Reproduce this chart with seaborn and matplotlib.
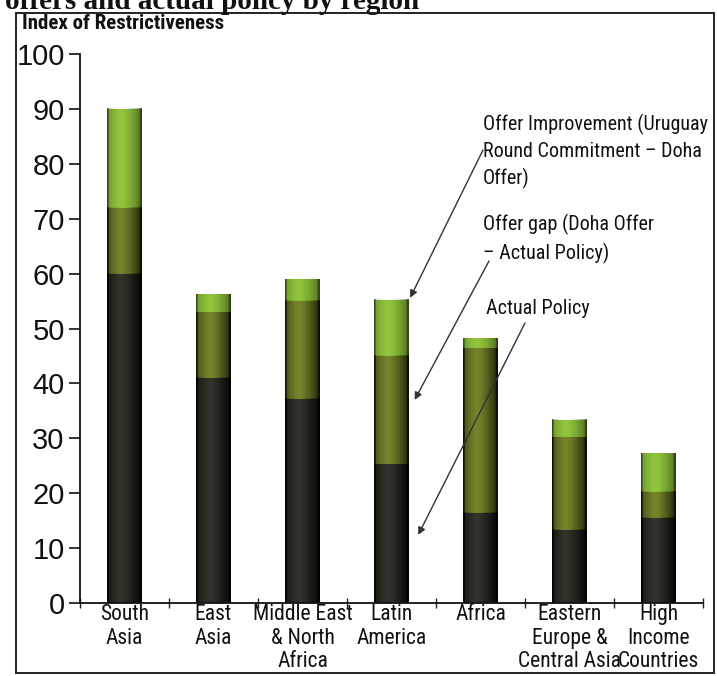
import numpy as np
import pandas as pd
import matplotlib
matplotlib.use("Agg")
import matplotlib.pyplot as plt
import seaborn as sns
from matplotlib.patches import Rectangle

# ---- data ----
regions = ["South\nAsia", "East\nAsia", "Middle East\n& North\nAfrica", "Latin\nAmerica",
           "Africa", "Eastern\nEurope &\nCentral Asia", "High\nIncome\nCountries"]
actual_policy = [60.0, 41.0, 37.2, 25.3, 16.4, 13.3, 15.5]
doha_offer = [72.0, 53.0, 55.1, 45.0, 46.4, 30.2, 20.3]
uruguay_commitment = [90.0, 56.2, 59.0, 55.2, 48.2, 33.4, 27.3]
yticks = [0, 10, 20, 30, 40, 50, 60, 70, 80, 90, 100]

df = pd.DataFrame({"region": regions, "actual": actual_policy,
                   "doha": doha_offer, "ur": uruguay_commitment})

sns.set_theme(style="white")
NARROW = ["Roboto Condensed", "PT Sans Narrow", "Archivo Narrow", "DejaVu Sans"]
REG = ["Liberation Sans", "DejaVu Sans"]
plt.rcParams["font.family"] = REG

W, H = 717, 676
fig = plt.figure(figsize=(W / 100, H / 100), dpi=100)
fig.patch.set_facecolor("white")

def fx(px):
    return px / W

def fy(py):
    return 1 - py / H

ax = fig.add_axes([fx(80), fy(603), fx(703) - fx(80), fy(54) - fy(603)])
ax.set_facecolor("white")

c_green = "#90c43c"
c_olive = "#77832a"
c_dark = "#32342b"
bw = 0.39
sns.barplot(data=df, x="region", y="ur", color=c_green, width=bw, ax=ax,
            saturation=1, linewidth=0)
sns.barplot(data=df, x="region", y="doha", color=c_olive, width=bw, ax=ax,
            saturation=1, linewidth=0)
sns.barplot(data=df, x="region", y="actual", color=c_dark, width=bw, ax=ax,
            saturation=1, linewidth=0)

# cylinder-like shading overlay
prof = np.linspace(0, 1, 64)
alpha = 0.45 * np.clip(np.abs(prof - 0.4) / 0.6, 0, 1) ** 1.6
alpha[:3] = 0.6
alpha[-4:] = 0.65
shade = np.zeros((1, 64, 4))
shade[0, :, 3] = alpha
for p in list(ax.patches):
    x0, y0 = p.get_x(), p.get_y()
    w, h = p.get_width(), p.get_height()
    if h <= 0:
        continue
    ax.imshow(shade, extent=[x0, x0 + w, y0, y0 + h], aspect="auto",
              zorder=p.get_zorder() + 0.05, interpolation="bilinear")

ax.set_xlim(-0.5, 6.5)
ax.set_ylim(0, 100)
ax.set_xlabel("")
ax.set_ylabel("")
ax.set_yticks(yticks)
ax.set_yticklabels([str(t) for t in yticks], fontsize=21, family=REG, color="#111111")
ax.tick_params(axis="y", direction="out", length=8, width=1.2, pad=3, left=True, colors="#111111")
ax.set_xticks(range(len(regions)))
ax.set_xticklabels(regions, fontsize=15.5, family=NARROW, color="#111111", linespacing=1.14)
ax.tick_params(axis="x", which="major", length=0, pad=1)
ax.set_xticks(np.arange(-0.5, 7, 1), minor=True)
ax.tick_params(axis="x", which="minor", direction="inout", length=7, width=1, bottom=True, colors="#222222")
for s in ["top", "right"]:
    ax.spines[s].set_visible(False)
for s in ["left", "bottom"]:
    ax.spines[s].set_color("#111111")
    ax.spines[s].set_linewidth(1.3)

# annotations
txt_kw = dict(fontsize=14.5, family=NARROW, color="#111111", ha="left", va="top", linespacing=1.45)
fig.text(fx(483), fy(114), "Offer Improvement (Uruguay\nRound Commitment \u2013 Doha\nOffer)", **txt_kw)
fig.text(fx(483), fy(214), "Offer gap (Doha Offer\n\u2013 Actual Policy)", **txt_kw)
fig.text(fx(486), fy(299), "Actual Policy", **txt_kw)

arrow_kw = dict(arrowstyle="-|>", color="#333333", lw=1.0, mutation_scale=11, shrinkA=0, shrinkB=0)
ax.annotate("", xy=(3.21, 55.6), xytext=(fx(483), fy(150)), textcoords="figure fraction",
            arrowprops=arrow_kw)
ax.annotate("", xy=(3.26, 37.0), xytext=(fx(489), fy(261)), textcoords="figure fraction",
            arrowprops=arrow_kw)
ax.annotate("", xy=(3.30, 12.4), xytext=(fx(525), fy(323)), textcoords="figure fraction",
            arrowprops=arrow_kw)

# header texts
fig.text(fx(22), fy(29), "Index of Restrictiveness", fontsize=15, family=NARROW,
         fontweight="bold", color="#111111", ha="left", va="baseline")
fig.text(fx(5), fy(9), "offers and actual policy by region",
         fontsize=21, family=["Liberation Serif", "DejaVu Serif"], fontweight="bold",
         color="#111111", ha="left", va="baseline")

# document frame
fig.add_artist(Rectangle((fx(16), fy(673)), fx(714) - fx(16), fy(13) - fy(673),
                         transform=fig.transFigure, fill=False, edgecolor="#222222", lw=1.4))

fig.savefig("out.png", dpi=100)
